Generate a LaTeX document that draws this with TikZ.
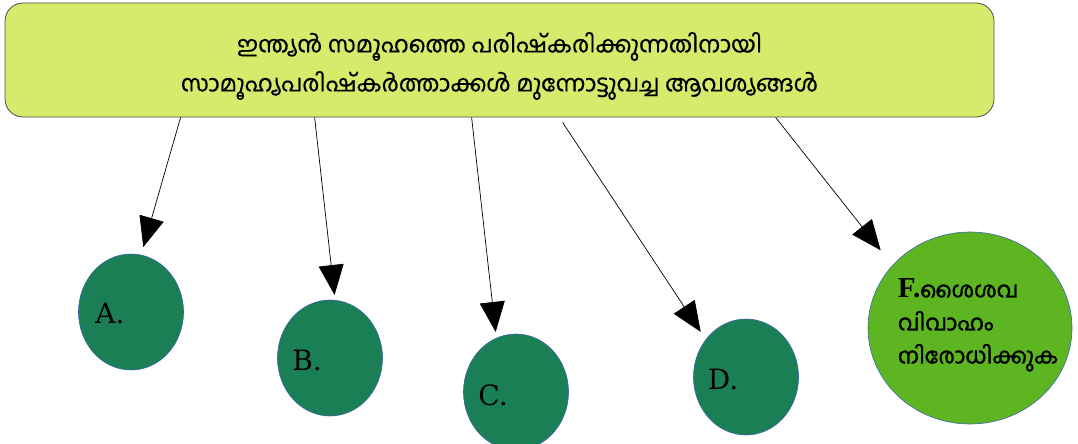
\documentclass[tikz,border=0pt]{standalone}
\usepackage{fontspec}
\setmainfont{DejaVu Serif}
\newfontfamily\mlfont[Script=Malayalam,FakeBold=0.6]{Hind Kochi}
\newfontfamily\mlbold[Script=Malayalam,FakeBold=1.5]{Hind Kochi}
\newfontfamily\lserif{Liberation Serif}
\usetikzlibrary{shapes.geometric,arrows.meta}
\definecolor{boxfill}{HTML}{D5EB6C}
\definecolor{darkgreen}{HTML}{1A7F55}
\definecolor{limegreen}{HTML}{5DB522}
\definecolor{rim}{HTML}{3A67A8}
\tikzset{
  topbox/.style={draw=black!70, fill=boxfill, rounded corners=18pt, line width=0.8pt,
    minimum width=989pt, minimum height=114pt, inner sep=0pt},
  toptext/.style={align=center, font=\mlfont\fontsize{23}{39}\selectfont, yshift=-6pt},
  bubble/.style={ellipse, draw=rim, fill=darkgreen, line width=0.6pt,
    minimum width=105pt, minimum height=116pt, inner sep=0pt},
  letter/.style={font=\fontsize{28}{30}\selectfont, text=black},
  conn/.style={line width=0.7pt, -{Triangle[length=30pt,width=25pt]}}
}
\begin{document}
\begin{tikzpicture}[x=1pt,y=-1pt]
\useasboundingbox (0,0) rectangle (1078,444);
\node[topbox, label={[toptext]center:ഇന്ത്യൻ സമൂഹത്തെ പരിഷ്കരിക്കുന്നതിനായി\\
  സാമൂഹ്യപരിഷ്കർത്താക്കൾ മുന്നോട്ടുവച്ച ആവശ്യങ്ങൾ}] (top) at (499.5,60) {};
\node[bubble, label={[letter, xshift=-21pt, yshift=-1pt]center:A.}] (A) at (131,312) {};
\node[bubble, label={[letter, xshift=-23pt, yshift=-2pt]center:B.}] (B) at (330,358) {};
\node[bubble, label={[letter, xshift=-23pt, yshift=-3pt]center:C.}] (C) at (516,392) {};
\node[bubble, label={[letter, xshift=-23pt, yshift=-2pt]center:D.}] (D) at (746,377) {};
\node[ellipse, draw=rim, fill=limegreen, line width=0.6pt, minimum width=204pt,
  minimum height=192pt, inner sep=0pt,
  label={[align=left, xshift=8pt, yshift=3pt, font=\mlbold\fontsize{22}{33}\selectfont]center:{\lserif\bfseries\fontsize{29}{33}\selectfont F.}ശൈശവ\\വിവാഹം\\നിരോധിക്കുക}] (F) at (970,328) {};
\coordinate (sA) at ([xshift=176pt]top.south west);
\coordinate (sB) at ([xshift=310pt]top.south west);
\coordinate (sC) at ([xshift=467pt]top.south west);
\coordinate (sD) at ([xshift=558pt,yshift=-5pt]top.south west);
\coordinate (sF) at ([xshift=771pt]top.south west);
\draw[conn, shorten >=8pt] (sA) -- (A.80);
\draw[conn, shorten >=5pt] (sB) -- (B.85);
\draw[conn, shorten >=6pt] (sC) -- (C.110);
\draw[conn, shorten >=9pt] (sD) -- (D.137);
\draw[conn, shorten >=19pt] (sF) -- (F.141);
\end{tikzpicture}
\end{document}
